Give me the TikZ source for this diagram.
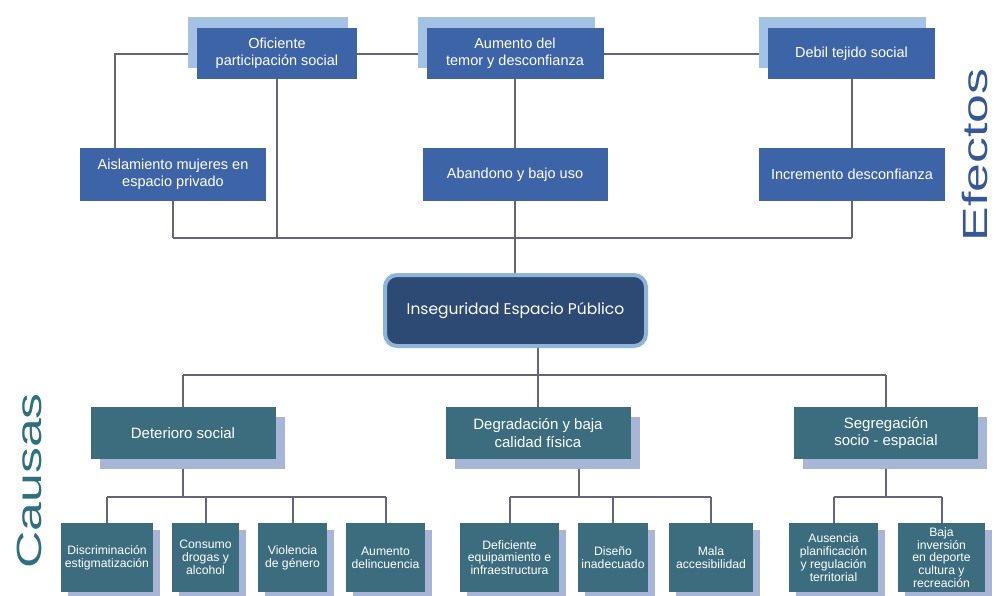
\documentclass[tikz,border=0pt]{standalone}
\usepackage{fontspec}
\setmainfont{Liberation Sans}
\newfontfamily\geofont{Poppins}
\usetikzlibrary{shadows,backgrounds}
\definecolor{efb}{HTML}{3E64A8}
\definecolor{efs}{HTML}{A4C2E3}
\definecolor{cab}{HTML}{3B6D7E}
\definecolor{cas}{HTML}{A7B6D6}
\definecolor{cenf}{HTML}{2C4A73}
\definecolor{cenb}{HTML}{8FB4DA}
\definecolor{lnc}{HTML}{66637A}
\definecolor{eftx}{HTML}{35579A}
\definecolor{catx}{HTML}{2E6F80}
\tikzset{
  box/.style={inner sep=1pt, align=center, text=white},
  efx/.style={box, fill=efb, font=\fontsize{14.5}{17}\selectfont},
  efxs/.style={efx, general shadow={fill=efs, shadow xshift=-9pt, shadow yshift=11pt}},
  cax/.style={box, fill=cab, font=\fontsize{15}{17.5}\selectfont,
     general shadow={fill=cas, shadow xshift=9pt, shadow yshift=-10pt}},
  chx/.style={box, fill=cab, font=\fontsize{12.2}{12.8}\selectfont,
     minimum height=69pt,
     general shadow={fill=cas, shadow xshift=7pt, shadow yshift=-7pt}},
  ln/.style={draw=lnc, line width=2pt},
  biglabel/.style={rotate=90, inner sep=0, font=\fontsize{35}{35}\selectfont}
}
\begin{document}
\begin{tikzpicture}[x=1pt,y=-1pt]
\useasboundingbox (0,0) rectangle (999,595);
\clip (0,0) rectangle (999,595);

% coordinates for buses
\coordinate (eb) at (0,238);
\coordinate (cb) at (0,375);
\coordinate (db) at (0,497);
\coordinate (lc) at (115,148);
\coordinate (dgb) at (579,459);

% Effects
\node[efxs, minimum width=160pt, minimum height=51pt] (ofi) at (277,53.5) {Oficiente\\participación social};
\node[efxs, minimum width=177pt, minimum height=51pt] (aum) at (515,53.5) {Aumento del\\temor y desconfianza};
\node[efxs, minimum width=167pt, minimum height=51pt] (deb) at (851.5,53.5) {Debil tejido social};
\node[efx, minimum width=186pt, minimum height=53pt] (ais) at (173,174.5) {Aislamiento mujeres en\\espacio privado};
\node[efx, minimum width=185pt, minimum height=53pt] (aba) at (515,174.5) {Abandono y bajo uso};
\node[efx, minimum width=186pt, minimum height=53pt] (inc) at (852,174.5) {Incremento desconfianza};

% Central problem
\node[fill=cenf, draw=cenb, line width=4pt, rounded corners=12pt,
      minimum width=261pt, minimum height=71pt, text=white,
      font=\geofont\fontsize{15.5}{18}\selectfont] (ins) at (515.5,310.5) {Inseguridad Espacio Público};

% Causes
\node[cax, minimum width=185pt, minimum height=52pt] (det) at (183,433) {Deterioro social};
\node[cax, minimum width=185pt, minimum height=52pt] (deg) at (538,433) {Degradación y baja\\calidad física};
\node[cax, minimum width=184pt, minimum height=52pt] (seg) at (886,433) {Segregación\\socio - espacial};

\node[chx, minimum width=92pt] (dis) at (107,557.5) {Discriminación\\estigmatización};
\node[chx, minimum width=67pt] (con) at (205.5,557.5) {Consumo\\drogas y\\alcohol};
\node[chx, minimum width=69pt] (vio) at (292.5,557.5) {Violencia\\de género};
\node[chx, minimum width=79pt] (aud) at (385.5,557.5) {Aumento\\delincuencia};
\node[chx, minimum width=99pt] (def) at (509.5,557.5) {Deficiente\\equipamiento e\\infraestructura};
\node[chx, minimum width=70pt] (dsn) at (613,557.5) {Diseño\\inadecuado};
\node[chx, minimum width=84pt] (mal) at (711,557.5) {Mala\\accesibilidad};
\node[chx, minimum width=89pt] (aus) at (833.5,557.5) {Ausencia\\planificación\\y regulación\\territorial};
\node[chx, minimum width=87pt] (baj) at (941.5,557.5) {Baja\\inversión\\en deporte\\cultura y\\recreación};

% Side labels
\node[biglabel, text=eftx] (eflab) at (975,155) {\scalebox{1.48}[1]{Efectos}};
\node[biglabel, text=catx] (calab) at (29,481) {\scalebox{1.48}[1]{Causas}};

\begin{scope}[on background layer]
\fill[white] (0,0) rectangle (999,595);
% Effect connectors
\draw[ln] (ofi.west) -| (lc);
\draw[ln] (ofi.east) -- (aum.west);
\draw[ln] (aum.east) -- (deb.west);
\draw[ln] (aum.south) -- (aba.north);
\draw[ln] (deb.south) -- (deb.south |- inc.north);
\draw[ln] (ofi.south) -- (ofi.south |- eb);
\draw[ln] (ais.south) -- (ais.south |- eb);
\draw[ln] (inc.south) -- (inc.south |- eb);
\draw[ln] (ais.south |- eb) -- (inc.south |- eb);
\draw[ln] (aba.south) -- (aba.south |- ins.north);

% Cause connectors
\draw[ln] (ins.south -| deg.north) -- (deg.north);
\draw[ln] (det.north |- cb) -- (seg.north |- cb);
\draw[ln] (det.north) -- (det.north |- cb);
\draw[ln] (seg.north) -- (seg.north |- cb);

\draw[ln] (det.south) -- (det.south |- db);
\draw[ln] (dis.north |- db) -- (aud.north |- db);
\foreach \n in {dis,con,vio,aud} \draw[ln] (\n.north) -- (\n.north |- db);

\draw[ln] (dgb) -- (dgb |- db);
\draw[ln] (def.north |- db) -- (mal.north |- db);
\foreach \n in {def,dsn,mal} \draw[ln] (\n.north) -- (\n.north |- db);

\draw[ln] (seg.south) -- (seg.south |- db);
\draw[ln] (aus.north |- db) -- (baj.north |- db);
\foreach \n in {aus,baj} \draw[ln] (\n.north) -- (\n.north |- db);
\end{scope}
\end{tikzpicture}
\end{document}
